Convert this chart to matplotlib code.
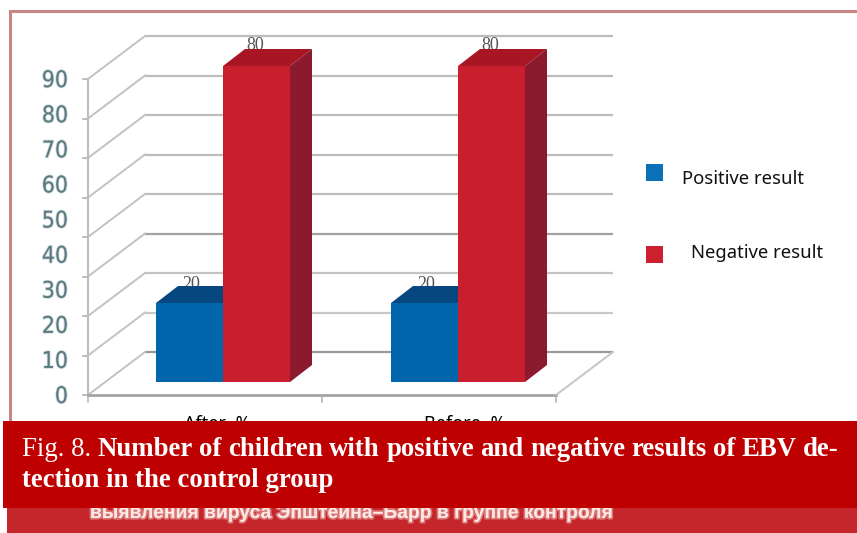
import matplotlib
matplotlib.use("Agg")
import matplotlib.pyplot as plt
import matplotlib.patheffects as pe
from matplotlib.patches import Polygon, Rectangle
from matplotlib import font_manager as fm

# Chart data
categories = ["After, %", "Before, %"]
positive = [20, 20]
negative = [80, 80]
series_names = ["Positive result", "Negative result"]
gridline_values = [0, 10, 20, 30, 40, 50, 60, 70, 80]
axis_labels = [0, 10, 20, 30, 40, 50, 60, 70, 80, 90]
caption_line1 = ["Number", "of", "children", "with", "positive", "and", "negative",
                 "results", "of", "EBV", "de-"]
caption_line2 = "tection in the control group"
footer_text = "выявления вируса Эпштейна–Барр в группе контроля"

W, H = 857, 533
PX_X = 235.0      # pixels per category step
PX_Y = 3.95       # pixels per value unit
X0, Y0 = 223, 395 # pixel position of x=0, value=0

fig = plt.figure(figsize=(W / 100, H / 100), dpi=100, facecolor="white")
ax = fig.add_axes([0, 0, 1, 1])
ax.set_xlim(-X0 / PX_X, (W - X0) / PX_X)
ax.set_ylim(-(H - Y0) / PX_Y, Y0 / PX_Y)
ax.axis("off")

# overlay in pixel coordinates for frame, legend and caption
ov = fig.add_axes([0, 0, 1, 1], zorder=5)
ov.set_xlim(0, W)
ov.set_ylim(H, 0)
ov.axis("off")
ov.patch.set_alpha(0)

def ux(p):
    return p / PX_X

def uy(p):
    return p / PX_Y

# 3D box geometry, expressed in data units
left = ux(88 - X0)
right = ux(556 - X0)
floor_dx, floor_dy = ux(57), uy(43)
bar_w = 67 / PX_X
bar_base = uy(13)
bar_dx, bar_dy = ux(22), uy(17)

GRID = "#bcbcbc"
grid_colors = {0: "#9a9a9a", 20: "#c4c4c4", 30: "#a2a2a2", 10: "#c8c8c8"}

for v in gridline_values:
    c = grid_colors.get(v, GRID)
    ax.plot([left + floor_dx, right + floor_dx], [v + floor_dy, v + floor_dy],
            color=c, lw=1.6, zorder=1, solid_capstyle="butt")
    ax.plot([left, left + floor_dx], [v, v + floor_dy], color="#c2c2c2", lw=1.4, zorder=1)
    ax.plot([left - ux(5), left], [v, v], color="#b0b0b0", lw=1.2, zorder=1)

# floor and front axes
ax.plot([left, left], [0, gridline_values[-1]], color="#bdbdbd", lw=1.5, zorder=1)
ax.plot([left, right], [0, 0], color="#a4a4a4", lw=2.0, zorder=1)
ax.plot([right, right + floor_dx], [0, floor_dy], color="#c8c8c8", lw=1.5, zorder=1)
for t in [left, 0.42, right]:
    ax.plot([t, t], [0, -uy(7)], color="#b0b0b0", lw=1.1, zorder=1)

# the digit column is tall and narrow: prefer a condensed face when one exists
tick_font = fm.FontProperties(family="Liberation Sans", size=14.5)
for f in fm.fontManager.ttflist:
    if f.name in ("Liberation Sans Narrow", "DejaVu Sans Condensed") or (
            f.name in ("DejaVu Sans", "Roboto", "Open Sans", "Noto Sans")
            and f.stretch == "condensed" and f.style == "normal" and f.weight in (400, "normal")):
        tick_font = fm.FontProperties(fname=f.fname, size=16.5)
        break

for lab in axis_labels:
    y = lab * 35.1 / 39.5
    ax.text(ux(68 - X0), y - uy(1.5), str(lab), ha="right", va="center", fontproperties=tick_font,
            color="#5b7a80", zorder=2,
            path_effects=[pe.withStroke(linewidth=1.3, foreground="#b9c9cc", alpha=0.6)])

# value labels sit behind the bar tops
for i in range(len(categories)):
    ax.text(i - bar_w / 2 + ux(2), positive[i] + bar_base + bar_dy - uy(7), str(positive[i]),
            ha="center", va="bottom", fontsize=13, color="#555555",
            family="Liberation Serif", zorder=2)
    ax.text(i + bar_w / 2 - ux(1), negative[i] + bar_base + bar_dy - uy(5), str(negative[i]),
            ha="center", va="bottom", fontsize=13, color="#555555",
            family="Liberation Serif", zorder=2)

def draw_bar(xl, value, front, top, side, z):
    ax.bar(xl, value, bar_w, bottom=bar_base, align="edge", color=front, zorder=z, lw=0)
    h = bar_base + value
    xr = xl + bar_w
    ax.add_patch(Polygon([(xl, h), (xr, h), (xr + bar_dx, h + bar_dy), (xl + bar_dx, h + bar_dy)],
                         closed=True, fc=top, ec="none", zorder=z))
    ax.add_patch(Polygon([(xr, bar_base), (xr + bar_dx, bar_base + bar_dy),
                          (xr + bar_dx, h + bar_dy), (xr, h)],
                         closed=True, fc=side, ec="none", zorder=z))

for i in range(len(categories)):
    draw_bar(i - bar_w, positive[i], "#0266AD", "#07477F", "#07477F", 3)
    draw_bar(i, negative[i], "#C91E2E", "#A81624", "#8B1A2F", 4)

# category labels, partly covered by the caption band
for i, off in zip(range(len(categories)), [-6, 7]):
    ax.text(i + ux(off), -uy(29), categories[i], ha="center", va="center",
            fontsize=13, family="Noto Sans", color="black", zorder=2)

# outer frame
FRAME = "#c88686"
ov.plot([10, 10, W], [508, 11, 11], color=FRAME, lw=2.2, solid_joinstyle="miter", zorder=1)

# legend
for sy, ty, c, name, tx in zip([164, 246], [179, 253], ["#0B70B8", "#CC1F30"], series_names, [682, 691]):
    ov.add_patch(Rectangle((646, sy), 17, 17, fc=c, ec="none", zorder=2))
    ov.text(tx, ty, name, ha="left", va="center", fontsize=13.3,
            family="Noto Sans", color="#111111", zorder=2)

# footer band and caption band
ov.add_patch(Rectangle((7, 507), W - 7, 26, fc="#C5262B", ec="none", zorder=3))
ov.text(351, 513, footer_text, ha="center", va="center", fontsize=13.9,
        family="Liberation Sans", weight="bold", color="#fbe9e6", zorder=4,
        path_effects=[pe.withStroke(linewidth=2.4, foreground="#eeb4b0", alpha=0.55)])
ov.add_patch(Rectangle((3, 421), W - 3, 87, fc="#BF0000", ec="none", zorder=5))

# caption: justified first line with a regular-weight lead-in
renderer = fig.canvas.get_renderer()
CAP = dict(fontsize=19.3, family="Liberation Serif", color="white", zorder=6, va="baseline")
items = [ov.text(22, 456, "Fig. 8.", **CAP)]
items += [ov.text(22, 456, w, weight="bold", **CAP) for w in caption_line1]
widths = [t.get_window_extent(renderer).width for t in items]
gap = (839 - 22 - sum(widths)) / (len(items) - 1)
x = 22
for t, w in zip(items, widths):
    t.set_x(x)
    x += w + gap
ov.text(22, 487, caption_line2, weight="bold", **CAP)

fig.savefig("out.png", dpi=100, facecolor="white")
